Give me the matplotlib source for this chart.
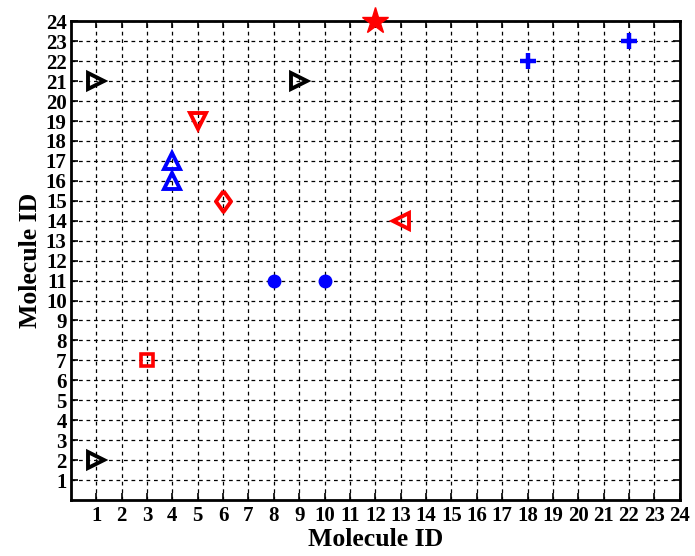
import matplotlib
matplotlib.use("Agg")
import matplotlib.pyplot as plt

plt.rcParams['font.family'] = ['Liberation Serif', 'DejaVu Serif']

# data: (x, y) for each marker group
black_right_x = [1, 1, 9]
black_right_y = [2, 21, 21]
blue_up_x = [4, 4]
blue_up_y = [16, 17]
red_down_x = [5]
red_down_y = [19]
red_diamond_x = [6]
red_diamond_y = [15]
blue_dot_x = [8, 10]
blue_dot_y = [11, 11]
red_square_x = [3]
red_square_y = [7]
red_left_x = [13]
red_left_y = [14]
red_star_x = [12]
red_star_y = [24]
blue_plus_x = [18, 22]
blue_plus_y = [22, 23]
ticks = list(range(1, 25))

fig = plt.figure(figsize=(6.95, 5.56), dpi=100)
ax = fig.add_axes([0.102, 0.1007, 0.876, 0.861])

diamond = [(0, 1), (0.72, 0), (0, -1), (-0.72, 0), (0, 1)]

kw = dict(linestyle='none', clip_on=False, zorder=5)
ax.plot(black_right_x, black_right_y, marker='>', ms=11, mfc='none', mec='black', mew=2.8, **kw)
ax.plot(blue_up_x, blue_up_y, marker='^', ms=11, mfc='none', mec='blue', mew=2.8, **kw)
ax.plot(red_down_x, red_down_y, marker='v', ms=11, mfc='none', mec='red', mew=2.8, **kw)
ax.plot(red_diamond_x, red_diamond_y, marker=diamond, ms=15, mfc='none', mec='red', mew=2.8, **kw)
ax.plot(blue_dot_x, blue_dot_y, marker='o', ms=9, mfc='blue', mec='blue', mew=1, **kw)
ax.plot(red_square_x, red_square_y, marker='s', ms=8.5, mfc='none', mec='red', mew=2.6, **kw)
ax.plot(red_left_x, red_left_y, marker='<', ms=11, mfc='none', mec='red', mew=2.8, **kw)
ax.plot(red_star_x, red_star_y, marker='*', ms=20, mfc='red', mec='red', mew=1, **kw)
ax.plot(blue_plus_x, blue_plus_y, marker='+', ms=11, mfc='none', mec='blue', mew=3.2, **kw)

ax.set_xlim(0, 24)
ax.set_ylim(0, 24)
ax.set_xticks(ticks)
ax.set_yticks(ticks)
ax.set_xticklabels([str(t) for t in ticks])
ax.set_yticklabels([str(t) for t in ticks])
ax.tick_params(direction='in', length=5, width=1.2, top=True, right=True,
               labelsize=15, pad=4)
ax.tick_params(axis='y', pad=3)
for lab in ax.get_xticklabels() + ax.get_yticklabels():
    lab.set_fontweight('bold')
ax.grid(True, color='black', linestyle=(0, (3, 3)), linewidth=0.9)
ax.set_axisbelow(True)
for s in ax.spines.values():
    s.set_linewidth(2)

ax.set_xlabel('Molecule ID', fontsize=18.5, fontweight='bold', labelpad=2)
ax.set_ylabel('Molecule ID', fontsize=18.5, fontweight='bold', labelpad=3)

fig.savefig('out.png', dpi=100)
